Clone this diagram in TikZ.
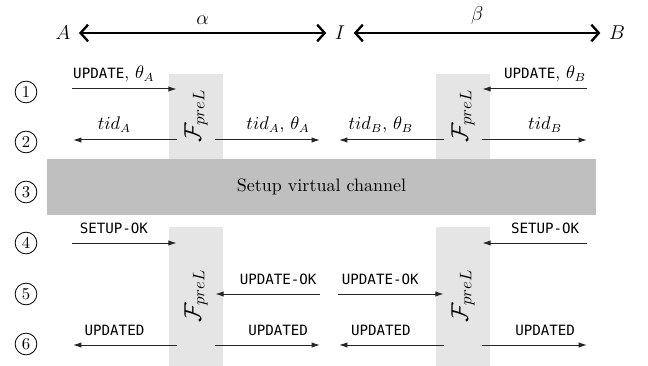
\documentclass[tikz,border=0pt]{standalone}
\usepackage{fontspec}
\usepackage{graphicx}
\usetikzlibrary{arrows.meta}
\newfontfamily\msgfont{DejaVu Sans Mono}
\newcommand{\msgtxt}[1]{{\msgfont\fontsize{8.5}{10}\selectfont #1}}

\tikzset{
  party/.style={inner sep=5pt, font=\fontsize{11.5}{13}\selectfont},
  chan/.style={line width=1.4pt, {Straight Barb[length=4.5pt,width=10pt]}-{Straight Barb[length=4.5pt,width=10pt]}},
  chanlbl/.style={above=1pt, font=\fontsize{11.5}{13}\selectfont},
  msg/.style={line width=0.6pt, draw=black!85, -{Latex[length=5pt,width=3.2pt]}},
  lbl/.style={anchor=base, yshift=6pt, inner sep=0pt, font=\fontsize{10.5}{12}\selectfont},
  stepnum/.style={circle, draw, line width=0.5pt, minimum size=13pt, inner sep=0pt, font=\fontsize{10}{11}\selectfont},
  funcbox/.style={fill=gray!20},
  func/.style={minimum width=22.8pt, inner sep=0pt, font=\fontsize{14.5}{16}\selectfont},
  band/.style={fill=gray!50, minimum width=329.4pt, minimum height=33.6pt, inner sep=0pt, font=\fontsize{10.8}{12}\selectfont}
}

\begin{document}
\begin{tikzpicture}[x=0.6pt,y=-0.6pt]
\useasboundingbox (0,0) rectangle (648,366);

% parties and virtual channel halves
\node[party] (A) at (63,33) {$A$};
\node[party] (I) at (340,33) {$I$};
\node[party] (B) at (617,33) {$B$};
\draw[chan] (A) -- node[chanlbl] {$\alpha$} (I);
\draw[chan] (I) -- node[chanlbl] {$\beta$} (B);

% step numbers
\node[stepnum] (s1) at (26,92) {1};
\node[stepnum] (s2) at (26,142) {2};
\node[stepnum] (s3) at (26,192) {3};
\node[stepnum] (s4) at (26,243) {4};
\node[stepnum] (s5) at (26,294) {5};
\node[stepnum] (s6) at (26,344) {6};

% functionality boxes
\fill[funcbox] (169,74) rectangle (223,159);
\fill[funcbox] (436,74) rectangle (490,159);
\fill[funcbox] (169,227) rectangle (223,366);
\fill[funcbox] (436,227) rectangle (490,366);

\node[func] (FL1) at (196,116) {\rotatebox{90}{$\mathcal{F}_{preL}$}};
\node[func] (FR1) at (463,116) {\rotatebox{90}{$\mathcal{F}_{preL}$}};
\node[func] (FL2) at (196,296) {\rotatebox{90}{$\mathcal{F}_{preL}$}};
\node[func] (FR2) at (463,296) {\rotatebox{90}{$\mathcal{F}_{preL}$}};

% setup phase
\node[band] (setup) at (321.5,187) {Setup virtual channel};

% outer ends of the messages
\coordinate (a1) at (72,89);   \coordinate (b1) at (587,89);
\coordinate (a2) at (73,140);  \coordinate (b2) at (587,140);
\coordinate (il2) at (320,140); \coordinate (ir2) at (339,140);
\coordinate (a4) at (72,243);  \coordinate (b4) at (587,243);
\coordinate (il5) at (320,294); \coordinate (ir5) at (338,294);
\coordinate (a6) at (73,345);  \coordinate (b6) at (587,345);
\coordinate (il6) at (320,345); \coordinate (ir6) at (339,345);

% step 1
\draw[msg] (a1) -- node[lbl,pos=0.4] {\msgtxt{UPDATE}, $\theta_A$} (a1 -| FL1.west);
\draw[msg] (b1) -- node[lbl,pos=0.4] {\msgtxt{UPDATE}, $\theta_B$} (b1 -| FR1.east);
% step 2
\draw[msg] (a2 -| FL1.west) -- node[lbl,pos=0.6] {$tid_A$} (a2);
\draw[msg] (il2 -| FL1.east) -- node[lbl,pos=0.6] {$tid_A$, $\theta_A$} (il2);
\draw[msg] (ir2 -| FR1.west) -- node[lbl,pos=0.6] {$tid_B$, $\theta_B$} (ir2);
\draw[msg] (b2 -| FR1.east) -- node[lbl,pos=0.6] {$tid_B$} (b2);
% step 4
\draw[msg] (a4) -- node[lbl,pos=0.4] {\msgtxt{SETUP-OK}} (a4 -| FL2.west);
\draw[msg] (b4) -- node[lbl,pos=0.4] {\msgtxt{SETUP-OK}} (b4 -| FR2.east);
% step 5
\draw[msg] (il5) -- node[lbl,pos=0.4] {\msgtxt{UPDATE-OK}} (il5 -| FL2.east);
\draw[msg] (ir5) -- node[lbl,pos=0.4] {\msgtxt{UPDATE-OK}} (ir5 -| FR2.west);
% step 6
\draw[msg] (a6 -| FL2.west) -- node[lbl,pos=0.6] {\msgtxt{UPDATED}} (a6);
\draw[msg] (il6 -| FL2.east) -- node[lbl,pos=0.6] {\msgtxt{UPDATED}} (il6);
\draw[msg] (ir6 -| FR2.west) -- node[lbl,pos=0.6] {\msgtxt{UPDATED}} (ir6);
\draw[msg] (b6 -| FR2.east) -- node[lbl,pos=0.6] {\msgtxt{UPDATED}} (b6);
\end{tikzpicture}
\end{document}
